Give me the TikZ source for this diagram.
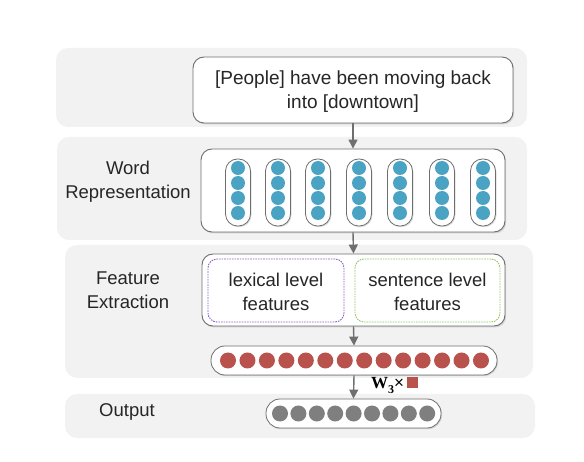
\documentclass[tikz,border=0pt]{standalone}
\usepackage{fontspec}
\setmainfont{Liberation Sans}
\newfontfamily\serifbf{Liberation Serif}
\usetikzlibrary{shadows,arrows.meta}
\definecolor{panelbg}{HTML}{F2F2F2}
\definecolor{boxline}{HTML}{6E6E6E}
\definecolor{dotblue}{HTML}{4BA3C3}
\definecolor{dotred}{HTML}{B9514C}
\definecolor{dotgray}{HTML}{7F7F7F}
\definecolor{lexline}{HTML}{8860C4}
\definecolor{senline}{HTML}{92C865}
\definecolor{arrgray}{HTML}{6F6F6F}
\tikzset{
  panel/.style={fill=panelbg, draw=none, rounded corners=12pt, inner sep=0pt},
  bigbox/.style={draw=boxline, line width=0.9pt, fill=white, rounded corners=11pt, inner sep=0pt,
     drop shadow={opacity=0.25, shadow xshift=1.2pt, shadow yshift=-1.5pt}},
  capsule/.style={draw=boxline, line width=0.8pt, fill=white, rounded corners=12pt, inner sep=0pt,
     drop shadow={opacity=0.25, shadow xshift=1pt, shadow yshift=-1.2pt}},
  dashbox/.style={dashed, dash pattern=on 1.6pt off 1pt, line width=0.9pt, rounded corners=9pt, inner sep=0pt, fill=white},
  dotb/.style={circle, fill=dotblue, minimum size=14pt, inner sep=0pt},
  dotr/.style={circle, fill=dotred, minimum size=16pt, inner sep=0pt},
  dotg/.style={circle, fill=dotgray, minimum size=16pt, inner sep=0pt},
  lbl/.style={align=center, font=\fontsize{18.5}{24}\selectfont, text=black!85, inner sep=0pt},
  arr/.style={draw=arrgray, line width=1.4pt, -{Triangle[length=9pt, width=9pt]}},
}
\begin{document}
\begin{tikzpicture}[x=1pt, y=-1pt]
\useasboundingbox (0,0) rectangle (584,462);
% panels
\node[panel, minimum width=471pt, minimum height=79pt] (p1) at (291.5,87.5) {};
\node[panel, minimum width=470pt, minimum height=103pt] (p2) at (292,188.5) {};
\node[panel, minimum width=468pt, minimum height=133pt] (p3) at (299,311.5) {};
\node[panel, minimum width=470pt, minimum height=44pt] (p4) at (300,416) {};
% labels
\node[lbl] (lword) at (128,182) {Word\\Representation};
\node[lbl] (lfeat) at (128,290) {Feature\\Extraction};
\node[lbl] (lout) at (127,412) {Output};
% sentence
\node[bigbox, minimum width=320pt, minimum height=66pt] (sent) at (353,90) {};
\node[lbl, font=\fontsize{19}{24}\selectfont] (senttxt) at (353,92) {[People] have been moving back\\into [downtown]};
% word representation
\node[bigbox, minimum width=304pt, minimum height=83pt] (word) at (353,190.5) {};
\foreach \i/\x in {1/238,2/278,3/318,4/359,5/400,6/442,7/483}{
  \node[capsule, minimum width=25pt, minimum height=67pt] (c\i) at (\x,192.5) {};
  \foreach \j/\y in {1/168,2/183,3/198,4/213}{
    \node[dotb] (b\i\j) at (\x,\y) {};
  }
}
% feature extraction
\node[bigbox, minimum width=303pt, minimum height=72pt] (feat) at (353.5,290) {};
\node[dashbox, draw=lexline, minimum width=136pt, minimum height=63pt] (lex) at (276,290.5) {};
\node[lbl] (lextxt) at (276,291.5) {lexical level\\features};
\node[dashbox, draw=senline, minimum width=145pt, minimum height=63pt] (sen) at (427.5,290.5) {};
\node[lbl] (sentxt) at (427.5,291.5) {sentence level\\features};
% red vector
\node[capsule, minimum width=286pt, minimum height=29pt, rounded corners=14pt] (red) at (354,360.5) {};
\foreach \k in {0,...,13}{
  \node[dotr] (r\k) at ({228+\k*19.46},360.5) {};
}
% output vector
\node[capsule, minimum width=175pt, minimum height=29pt, rounded corners=14pt] (out) at (353.5,413.5) {};
\foreach \k in {0,...,8}{
  \node[dotg] (g\k) at ({280+\k*18.4},413.5) {};
}
% arrows
\draw[arr] (sent.south) -- (word.north);
\draw[arr] (word.south) -- (feat.north);
\draw[arr] (feat.south) -- (red.north);
\draw[arr] (red.south) -- (out.north);
\node[inner sep=0pt, anchor=west, font=\fontsize{17}{18}\selectfont] (wlbl) at (371,385) {{\serifbf\bfseries W}\raisebox{-5pt}{\serifbf\bfseries\fontsize{12}{12}\selectfont 3}×\,{\color{dotred}\rule{11pt}{11pt}}};
\end{tikzpicture}
\end{document}
